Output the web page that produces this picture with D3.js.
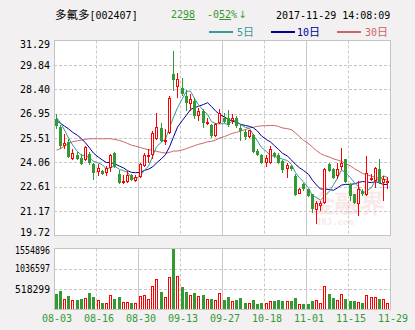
<!DOCTYPE html>
<html><head><meta charset="utf-8">
<script src="https://cdn.jsdelivr.net/npm/d3@7"></script>
<style>
html,body{margin:0;padding:0;background:#f2f0f0;}
svg{display:block;}
text{font-family:"DejaVu Sans Mono",monospace;}
</style></head><body>
<svg id="chart" width="415" height="330"></svg>
<script>
// Daily K-line of 多氟多 (002407), 2017-08-03 .. 2017-11-29
const dates = [
  "08-03","08-04","08-07","08-08","08-09","08-10","08-11","08-14","08-15","08-16","08-17","08-18","08-21","08-22","08-23","08-24","08-25","08-28","08-29","08-30","08-31",
  "09-01","09-04","09-05","09-06","09-07","09-08","09-11","09-12","09-13","09-14","09-15","09-18","09-19","09-20","09-21","09-22","09-25","09-26","09-27","09-28","09-29",
  "10-09","10-10","10-11","10-12","10-13","10-16","10-17","10-18","10-19","10-20","10-23","10-24","10-25","10-26","10-27","10-30","10-31",
  "11-01","11-02","11-03","11-06","11-07","11-08","11-09","11-10","11-13","11-14","11-15","11-16","11-17","11-20","11-21","11-22","11-23","11-24","11-27","11-28","11-29"
];
const open = [
  26.66,26.18,25.03,25.27,24.28,24.48,24.32,24.20,24.54,23.99,23.49,23.55,23.41,23.75,24.62,23.35,22.86,22.90,23.29,22.96,
  23.21,23.85,24.44,24.48,25.47,26.12,25.29,25.81,29.28,28.54,28.49,27.99,27.50,27.69,26.80,27.10,26.37,26.25,25.62,26.37,
  26.70,26.70,26.51,26.70,26.11,25.85,25.58,25.66,24.73,24.47,24.03,24.03,24.60,24.47,24.13,23.64,23.84,23.24,22.20,22.75,
  22.45,22.16,21.23,21.46,21.62,23.98,23.64,23.24,23.80,24.23,22.75,22.16,21.56,22.35,22.12,23.05,22.95,23.64,22.85,22.92
];
const high = [
  26.91,26.30,25.73,25.47,24.88,24.68,24.54,25.03,24.68,24.04,23.95,23.61,23.85,24.56,24.66,23.60,23.29,23.55,23.35,23.29,
  24.04,24.60,24.84,25.92,26.97,26.38,26.05,27.99,30.66,29.34,29.08,28.35,28.09,27.89,27.30,27.20,26.70,26.31,26.37,27.20,
  26.96,27.14,26.90,26.80,26.31,26.01,26.00,25.72,24.87,24.53,24.47,25.06,24.70,24.59,24.17,24.03,23.90,23.34,22.55,22.85,
  22.49,22.21,21.76,21.76,23.74,24.03,23.74,24.03,24.89,24.27,22.85,22.20,22.95,22.45,24.43,23.34,23.80,24.23,23.24,23.19
];
const low = [
  26.02,24.88,24.84,24.34,24.18,24.20,23.89,24.14,23.89,23.02,23.25,23.29,23.25,23.49,23.75,22.76,22.76,22.86,22.96,22.92,
  23.15,23.81,24.04,24.24,25.39,25.27,25.09,25.77,28.30,27.89,27.99,27.10,27.10,26.61,26.51,26.11,26.25,25.52,25.58,26.31,
  26.41,26.17,26.31,26.11,25.32,25.38,25.52,24.63,24.43,23.99,23.80,23.99,24.30,23.94,23.40,23.14,23.55,22.06,22.16,22.35,
  22.02,21.07,20.43,21.17,21.56,23.48,23.05,23.05,23.60,22.81,21.76,21.56,20.87,22.06,22.06,22.95,22.55,22.75,21.76,22.49
];
const close = [
  26.22,25.03,25.23,24.40,24.60,24.24,23.95,24.97,24.04,23.41,23.75,23.35,23.75,24.52,23.79,22.82,22.94,23.29,23.02,23.21,
  23.99,24.48,24.52,25.79,26.18,25.33,25.39,27.89,28.92,28.98,28.09,27.56,27.83,26.80,27.10,26.37,26.45,25.62,26.31,26.96,
  26.45,26.25,26.70,26.21,25.91,25.58,25.97,24.67,24.47,24.03,24.33,24.83,24.45,24.05,23.60,23.88,23.64,22.12,22.45,22.45,
  22.06,21.27,21.66,21.62,23.68,23.54,23.14,23.64,24.03,22.89,22.06,21.62,22.45,22.16,23.44,23.15,23.74,22.85,23.10,22.98
];
const volume = [
  384000,461000,256000,333000,231000,231000,256000,282000,410000,308000,231000,154000,154000,376000,256000,308000,179000,179000,154000,154000,
  333000,359000,256000,589000,769000,436000,308000,820000,1554896,846000,564000,436000,376000,410000,333000,359000,256000,256000,231000,427000,
  231000,308000,205000,231000,282000,154000,154000,231000,128000,154000,154000,205000,205000,231000,205000,205000,205000,282000,128000,128000,
  128000,205000,231000,154000,589000,401000,282000,231000,401000,256000,205000,205000,179000,154000,359000,308000,308000,256000,256000,154000
];
// Moving-average values for the sessions before each window is full
const ma5Lead = [26.72,26.40,25.98,25.50];
const ma10Lead = [26.53,26.37,26.21,26.05,25.85,25.66,25.46,25.22,24.92];
const ma30Lead = [
  24.79,24.87,25.02,25.18,25.28,25.34,25.38,25.42,25.46,25.46,25.46,25.46,25.46,25.46,25.42,
  25.36,25.28,25.18,25.08,25.02,24.94,24.87,24.81,24.77,24.71,24.65,24.61,24.65,24.73
];
const priceTicks = [19.72,21.17,22.61,24.06,25.51,26.95,28.40,29.84,31.29];
const volumeTicks = [518299,1036597,1554896];
const dateTicks = ["08-03","08-16","08-30","09-13","09-27","10-18","11-01","11-15","11-29"];

const C = {
  up:"#ff0000", down:"#339933", grid:"#c8c8c8", border:"#c4c4c4",
  ma5:"#339999", ma10:"#000099", ma30:"#cc6666", axisText:"#000", dateText:"#339933"
};

const svg = d3.select("#chart");
const L = 54, R = 390;
const mainTop = 40.5, mainBot = 235.5, volTop = 248.5, volBot = 309.5;

const x = d3.scaleBand().domain(dates).range([L, R]).padding(0);
const y = d3.scaleLinear().domain([priceTicks[0], priceTicks[priceTicks.length-1]]).range([mainBot, mainTop]);
const yv = d3.scaleLinear().domain([0, volumeTicks[volumeTicks.length-1]]).range([volBot, volTop]);

const bodyX = d => Math.round(x(d) + 0.6);
const cx = d => bodyX(d) + 1.5;
const tickX = (d, k) => k === 0 ? x(d) : x(d) + x.step();

// panels
[[mainTop, mainBot], [volTop, volBot]].forEach(([t, b]) => {
  svg.append("rect").attr("x", L + 0.5).attr("y", t).attr("width", R - L).attr("height", b - t)
    .attr("fill", "#fff");
});

// watermark
const wm = svg.append("g").attr("fill", "#fbe9e9");
wm.append("text").attr("x", 310).attr("y", 212).attr("font-family", "Noto Sans CJK SC")
  .attr("font-size", 25).attr("font-weight", "bold").text("金融界");
wm.append("text").attr("x", 316).attr("y", 225).attr("font-family", "DejaVu Sans")
  .attr("font-size", 9).attr("font-weight", "bold").text("JRJ.com");

// grid lines
const grid = svg.append("g").attr("stroke", C.grid).attr("stroke-width", 1).attr("fill", "none");
priceTicks.slice(1, -1).forEach(v => {
  const yy = Math.round(y(v)) + 0.5;
  grid.append("line").attr("x1", L).attr("x2", R).attr("y1", yy).attr("y2", yy).attr("stroke-dasharray", "3,2");
});
volumeTicks.slice(0, -1).forEach(v => {
  const yy = Math.round(yv(v)) + 0.5;
  grid.append("line").attr("x1", L).attr("x2", R).attr("y1", yy).attr("y2", yy).attr("stroke-dasharray", "3,2");
});
dateTicks.forEach((d, k) => {
  if (k === 0 || k === dateTicks.length - 1) return;
  const xx = Math.round(tickX(d, k)) + 0.5;
  [[mainTop, mainBot], [volTop, volBot]].forEach(([t, b]) => {
    const ln = grid.append("line").attr("x1", xx).attr("x2", xx).attr("y1", t).attr("y2", b);
    if (k % 2 === 1) ln.attr("stroke-dasharray", "3,2");
  });
});

// moving averages
function movingAvg(n, lead) {
  return close.map((c, i) => i < n - 1 ? lead[i] : d3.mean(close.slice(i - n + 1, i + 1)));
}
const maLine = d3.line().x((v, i) => cx(dates[i])).y(v => y(v));
[[30, ma30Lead, C.ma30], [10, ma10Lead, C.ma10], [5, ma5Lead, C.ma5]].forEach(([n, lead, col]) => {
  svg.append("path").attr("d", maLine(movingAvg(n, lead))).attr("fill", "none")
    .attr("stroke", col).attr("stroke-width", 1);
});

// candles
const cg = svg.append("g").attr("shape-rendering", "crispEdges");
dates.forEach((d, i) => {
  const o = open[i], c = close[i], h = high[i], l = low[i];
  const up = c >= o;
  const col = up ? C.up : C.down;
  const bx = bodyX(d), mx = bx + 1.5;
  const top = Math.round(y(Math.max(o, c))), bot = Math.max(Math.round(y(Math.min(o, c))), top + 1);
  const yh = Math.round(y(h)), yl = Math.round(y(l));
  if (up) {
    cg.append("line").attr("x1", mx).attr("x2", mx).attr("y1", yh).attr("y2", top).attr("stroke", col);
    cg.append("line").attr("x1", mx).attr("x2", mx).attr("y1", bot).attr("y2", yl).attr("stroke", col);
    cg.append("rect").attr("x", bx + 0.5).attr("y", top + 0.5).attr("width", 2).attr("height", Math.max(bot - top - 1, 0.5))
      .attr("fill", "#fff").attr("stroke", col);
  } else {
    cg.append("line").attr("x1", mx).attr("x2", mx).attr("y1", yh).attr("y2", yl).attr("stroke", col);
    cg.append("rect").attr("x", bx).attr("y", top).attr("width", 3).attr("height", bot - top).attr("fill", col);
  }
  // volume bar
  const vt = Math.round(yv(volume[i])), vb = Math.round(volBot);
  if (up) {
    cg.append("rect").attr("x", bx + 0.5).attr("y", vt + 0.5).attr("width", 2).attr("height", vb - vt - 1)
      .attr("fill", "#fff").attr("stroke", col);
  } else {
    cg.append("rect").attr("x", bx).attr("y", vt).attr("width", 3).attr("height", vb - vt).attr("fill", col);
  }
});

// panel borders
[[mainTop, mainBot], [volTop, volBot]].forEach(([t, b]) => {
  svg.append("rect").attr("x", L + 0.5).attr("y", t).attr("width", R - L).attr("height", b - t)
    .attr("fill", "none").attr("stroke", C.border).attr("stroke-width", 1);
});

// price labels
priceTicks.forEach(v => {
  const yy = Math.min(Math.max(y(v), 44), 232);
  svg.append("text").attr("x", 50).attr("y", yy).attr("dy", "0.36em").attr("text-anchor", "end")
    .attr("font-size", 10).attr("fill", C.axisText).text(d3.format(".2f")(v));
});
// volume labels
volumeTicks.forEach(v => {
  const yy = Math.max(yv(v), 250);
  svg.append("text").attr("x", 50).attr("y", yy).attr("dy", "0.36em").attr("text-anchor", "end")
    .attr("font-size", 10).attr("textLength", 35).attr("lengthAdjust", "spacingAndGlyphs")
    .attr("fill", C.axisText).text(String(v));
});
// date labels
dateTicks.forEach((d, k) => {
  svg.append("text").attr("x", tickX(d, k) + 3).attr("y", 322).attr("text-anchor", "middle")
    .attr("font-size", 10).attr("fill", C.dateText).text(d);
});

// header
const hd = svg.append("g");
const name = hd.append("text").attr("x", 55).attr("y", 19).attr("font-size", 11).attr("fill", "#000");
name.append("tspan").attr("font-family", "Noto Sans CJK SC").attr("font-size", 11.5).text("多氟多");
name.append("tspan").attr("font-size", 10).text("[002407]");
const px = hd.append("text").attr("x", 171).attr("y", 18).attr("font-size", 10).attr("fill", C.down);
px.append("tspan").text("22");
px.append("tspan").attr("text-decoration", "underline").text("98");
const chg = hd.append("text").attr("x", 207).attr("y", 18).attr("font-size", 10).attr("fill", C.down);
chg.append("tspan").text("-0");
chg.append("tspan").attr("text-decoration", "underline").text("52");
chg.append("tspan").text("%");
chg.append("tspan").attr("font-family", "DejaVu Sans").attr("dx", 1).text("↓");
hd.append("text").attr("x", 276).attr("y", 19).attr("font-size", 10).attr("fill", "#000").text("2017-11-29 14:08:09");

// legend
const legend = [["5日", C.ma5, 209, 237], ["10日", C.ma10, 271, 297], ["30日", C.ma30, 337, 365]];
legend.forEach(([t, col, lx, tx]) => {
  svg.append("rect").attr("x", lx).attr("y", 31).attr("width", 24).attr("height", 2).attr("fill", col);
  const tt = svg.append("text").attr("x", tx).attr("y", 36).attr("font-size", 10).attr("fill", col);
  const m = t.match(/^(\d+)(.*)$/);
  tt.append("tspan").text(m[1]);
  tt.append("tspan").attr("font-family", "Noto Sans CJK SC").attr("font-size", 11).text(m[2]);
});
</script>
</body></html>
